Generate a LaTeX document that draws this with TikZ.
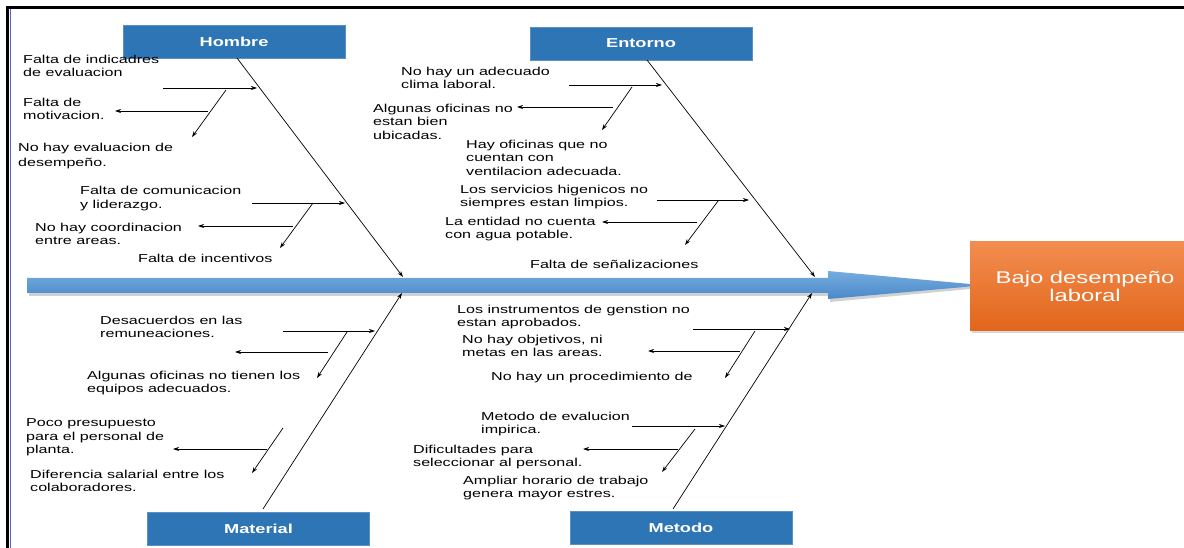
\documentclass[tikz,border=0pt]{standalone}
\usepackage{fontspec}
\setmainfont{Liberation Sans}[FakeStretch=1.4]
\usetikzlibrary{arrows.meta,shadows}

\definecolor{catblue}{HTML}{2E75B6}
\definecolor{spinetop}{HTML}{76ADE0}
\definecolor{spinebot}{HTML}{4A88C8}
\definecolor{effecttop}{HTML}{F28D50}
\definecolor{effectbot}{HTML}{E2661B}
\definecolor{framebl}{HTML}{5A5AD0}

\begin{document}
\begin{tikzpicture}[x=1pt,y=-1pt,
  arr/.style={draw=black, line width=0.7pt, -{Stealth[length=6pt,width=4pt]}},
  catbox/.style={fill=catblue, draw=catblue!80!white, minimum width=222pt,
    minimum height=33pt, inner sep=0pt, text=white,
    font=\fontsize{13}{15}\selectfont\bfseries},
  effectbox/.style={top color=effecttop, bottom color=effectbot, draw=none,
    minimum width=230pt, minimum height=88pt, inner sep=0pt, text=white,
    align=center, font=\fontsize{17}{18}\selectfont,
    drop shadow={shadow xshift=2pt, shadow yshift=-3pt, opacity=0.3}},
  lbl/.style={anchor=north west, inner sep=0pt, align=left,
    font=\fontsize{11.5}{13.5}\selectfont}]

\useasboundingbox (0,0) rectangle (1184,548);
\clip (0,0) rectangle (1184,548);
\fill[white] (0,0) rectangle (1184,548);

% frame
\draw[black, line width=3pt] (6,8) -- (1184,8);
\draw[black, line width=3pt] (7.5,6.5) -- (7.5,548);
\draw[framebl, line width=1.2pt] (10.6,9.5) -- (10.6,548);

% effect box
\node[effectbox] (effect) at (1085,286) {Bajo desempeño\\laboral};

% spine (shadow, then shaded body)
\fill[black, opacity=0.18] (29,281) -- (830,281) -- (830,274) -- (970,287) -- (970,289)
  -- (830,302) -- (830,296) -- (29,296) -- cycle;
\shade[top color=spinetop, bottom color=spinebot]
  (27,278) -- (828,278) -- (828,271) -- (970,284) -- (970,286.5)
  -- (828,299) -- (828,293) -- (27,293) -- cycle;

% category boxes
\node[catbox] (hombre)   at (234,41.5)  {Hombre};
\node[catbox] (entorno)  at (641,43.5)  {Entorno};
\node[catbox] (material) at (258.5,528.5) {Material};
\node[catbox] (metodo)   at (681,527.5) {Metodo};

% main bones
\coordinate (hS) at (237,58);   \coordinate (hE) at (403,277);
\coordinate (eS) at (647,60);   \coordinate (eE) at (815,277);
\coordinate (mS) at (263,509);  \coordinate (mE) at (402,293);
\coordinate (tS) at (673,509);  \coordinate (tE) at (812,293);
\draw[arr] (hS) -- (hE);
\draw[arr] (eS) -- (eE);
\draw[arr] (mS) -- (mE);
\draw[arr] (tS) -- (tE);

% Hombre branches
\coordinate (ha1) at (163,88);  \coordinate (hb1) at (257,88);
\coordinate (hc1) at (226,90);  \coordinate (hd1) at (192,137);
\coordinate (he1) at (208,111); \coordinate (hf1) at (115,111);
\coordinate (ha2) at (252,203); \coordinate (hb2) at (345,203);
\coordinate (hc2) at (313,203); \coordinate (hd2) at (280,248);
\coordinate (he2) at (293,226); \coordinate (hf2) at (198,226);
\draw[arr] (ha1) -- (hb1);
\draw[arr] (hc1) -- (hd1);
\draw[arr] (he1) -- (hf1);
\draw[arr] (ha2) -- (hb2);
\draw[arr] (hc2) -- (hd2);
\draw[arr] (he2) -- (hf2);

% Entorno branches
\coordinate (ea1) at (569,85);  \coordinate (eb1) at (662,85);
\coordinate (ec1) at (632,87);  \coordinate (ed1) at (602,130);
\coordinate (ee1) at (613,107); \coordinate (ef1) at (517,107);
\coordinate (ea2) at (657,200); \coordinate (eb2) at (749,200);
\coordinate (ec2) at (718,201); \coordinate (ed2) at (685,245);
\coordinate (ee2) at (697,222); \coordinate (ef2) at (602,222);
\draw[arr] (ea1) -- (eb1);
\draw[arr] (ec1) -- (ed1);
\draw[arr] (ee1) -- (ef1);
\draw[arr] (ea2) -- (eb2);
\draw[arr] (ec2) -- (ed2);
\draw[arr] (ee2) -- (ef2);

% Material branches
\coordinate (ma1) at (283,331); \coordinate (mb1) at (375,331);
\coordinate (mc1) at (347,332); \coordinate (md1) at (317,378);
\coordinate (me1) at (328,352); \coordinate (mf1) at (235,352);
\coordinate (mc2) at (283,428); \coordinate (md2) at (252,473);
\coordinate (me2) at (267,449); \coordinate (mf2) at (173,449);
\draw[arr] (ma1) -- (mb1);
\draw[arr] (mc1) -- (md1);
\draw[arr] (me1) -- (mf1);
\draw[arr] (mc2) -- (md2);
\draw[arr] (me2) -- (mf2);

% Metodo branches
\coordinate (ta1) at (693,329); \coordinate (tb1) at (790,329);
\coordinate (tc1) at (755,331); \coordinate (td1) at (725,378);
\coordinate (te1) at (740,351); \coordinate (tf1) at (648,351);
\coordinate (ta2) at (632,426); \coordinate (tb2) at (725,426);
\coordinate (tc2) at (695,429); \coordinate (td2) at (662,472);
\coordinate (te2) at (678,449); \coordinate (tf2) at (583,449);
\draw[arr] (ta1) -- (tb1);
\draw[arr] (tc1) -- (td1);
\draw[arr] (te1) -- (tf1);
\draw[arr] (ta2) -- (tb2);
\draw[arr] (tc2) -- (td2);
\draw[arr] (te2) -- (tf2);

% Hombre causes
\node[lbl] (h1) at (23,54.5)  {Falta de indicadres\\de evaluacion};
\node[lbl] (h2) at (23,97.5)  {Falta de\\motivacion.};
\node[lbl, font=\fontsize{11.5}{15}\selectfont] (h3) at (18,142.5) {No hay evaluacion de\\desempeño.};
\node[lbl] (h4) at (80,186)   {Falta de comunicacion\\y liderazgo.};
\node[lbl] (h5) at (35,222.5) {No hay coordinacion\\entre areas.};
\node[lbl] (h6) at (138,253.5) {Falta de incentivos};

% Entorno causes
\node[lbl] (e1) at (401,66.5)  {No hay un adecuado\\clima laboral.};
\node[lbl] (e2) at (373,103.5) {Algunas oficinas no\\estan bien\\ubicadas.};
\node[lbl] (e3) at (466,139.5) {Hay oficinas que no\\cuentan con\\ventilacion adecuada.};
\node[lbl] (e4) at (460,184.5) {Los servicios higenicos no\\siempres estan limpios.};
\node[lbl] (e5) at (445,216.5) {La entidad no cuenta\\con agua potable.};
\node[lbl] (e6) at (530,259.5) {Falta de señalizaciones};

% Material causes
\node[lbl] (m1) at (100,315.5) {Desacuerdos en las\\remuneaciones.};
\node[lbl] (m2) at (87,370.5)  {Algunas oficinas no tienen los\\equipos adecuados.};
\node[lbl] (m3) at (26,418.5)  {Poco presupuesto\\para el personal de\\planta.};
\node[lbl] (m4) at (30,469.5)  {Diferencia salarial entre los\\colaboradores.};

% Metodo causes
\node[lbl] (t1) at (457,304.5) {Los instrumentos de genstion no\\estan aprobados.};
\node[lbl] (t2) at (462,334.5) {No hay objetivos, ni\\metas en las areas.};
\node[lbl] (t3) at (491,371.5) {No hay un procedimiento de};
\node[lbl] (t4) at (481,411.5) {Metodo de evalucion\\impirica.};
\node[lbl] (t5) at (413,444.5) {Dificultades para\\seleccionar al personal.};
\node[lbl] (t6) at (463,475.5) {Ampliar horario de trabajo\\genera mayor estres.};

\end{tikzpicture}
\end{document}
